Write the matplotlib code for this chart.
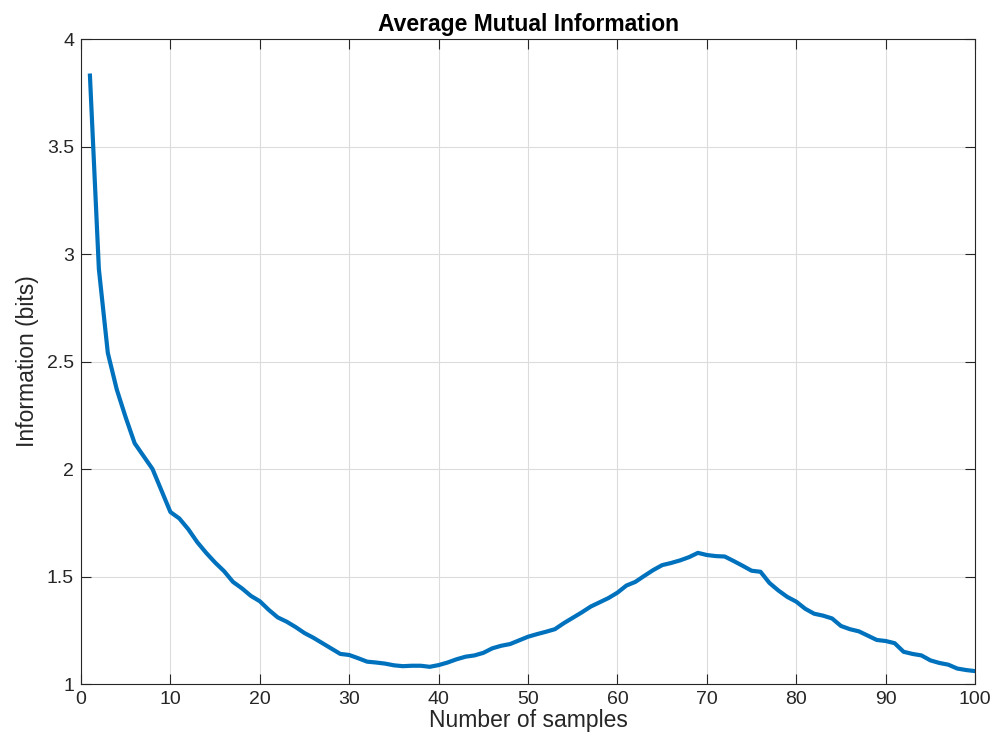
import matplotlib
matplotlib.use('Agg')
import matplotlib.pyplot as plt
import numpy as np

plt.rcParams['font.family'] = ['Liberation Sans', 'DejaVu Sans']

# average mutual information per lag (bits)
samples = np.arange(1, 101)
info_bits = [
    3.83, 2.93, 2.54, 2.37, 2.24, 2.12, 2.06, 2.00, 1.90, 1.80,
    1.77, 1.72, 1.66, 1.61, 1.565, 1.525, 1.475, 1.445, 1.41, 1.385,
    1.345, 1.31, 1.29, 1.265, 1.237, 1.215, 1.19, 1.165, 1.14, 1.135,
    1.12, 1.104, 1.10, 1.095, 1.087, 1.083, 1.085, 1.085, 1.08, 1.088,
    1.10, 1.115, 1.127, 1.133, 1.145, 1.166, 1.178, 1.186, 1.203, 1.22,
    1.232, 1.243, 1.255, 1.283, 1.308, 1.333, 1.36, 1.38, 1.40, 1.425,
    1.458, 1.475, 1.503, 1.53, 1.553, 1.563, 1.575, 1.59, 1.61, 1.60,
    1.595, 1.593, 1.572, 1.55, 1.527, 1.522, 1.47, 1.435, 1.405, 1.383,
    1.35, 1.327, 1.318, 1.305, 1.27, 1.255, 1.245, 1.225, 1.205, 1.20,
    1.19, 1.15, 1.14, 1.133, 1.11, 1.098, 1.09, 1.072, 1.065, 1.06,
]
x_ticks = np.arange(0, 101, 10)
y_ticks = [1, 1.5, 2, 2.5, 3, 3.5, 4]
y_ticklabels = ['1', '1.5', '2', '2.5', '3', '3.5', '4']

fig = plt.figure(figsize=(9.95, 7.52), dpi=100)
ax = fig.add_axes([0.0814, 0.0904, 0.8986, 0.8577])

ax.plot(samples, info_bits, color='#0072BD', linewidth=3, solid_joinstyle='round')

ax.set_xlim(0, 100)
ax.set_ylim(1, 4)
ax.set_xticks(x_ticks)
ax.set_yticks(y_ticks)
ax.set_yticklabels(y_ticklabels)

ax.grid(True, color='#dcdcdc', linewidth=0.8)
ax.set_axisbelow(True)
for s in ax.spines.values():
    s.set_color('#262626')
    s.set_linewidth(0.8)
ax.tick_params(direction='in', length=7, width=0.8, color='#262626',
               labelcolor='#262626', labelsize=14, top=True, right=True, pad=5)

ax.set_xlabel('Number of samples', fontsize=16.5, color='#262626', labelpad=1)
ax.set_ylabel('Information (bits)', fontsize=16.5, color='#262626', labelpad=6)
ax.set_title('Average Mutual Information', fontsize=16.5, fontweight='bold', pad=6)

fig.savefig('out.png', dpi=100)
plt.close(fig)
